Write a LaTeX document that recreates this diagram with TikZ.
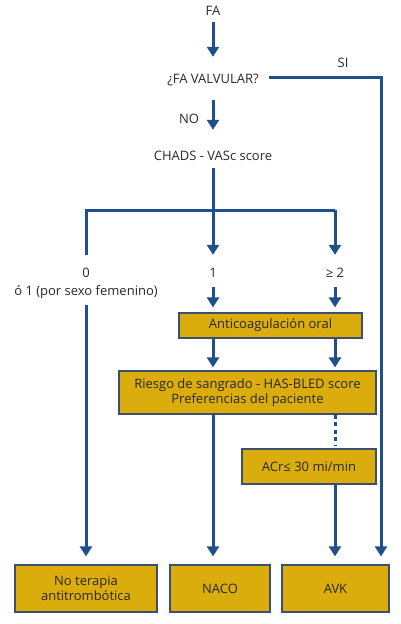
\documentclass[tikz,border=0pt]{standalone}
\usepackage{fontspec}
\setmainfont{Open Sans}
\usetikzlibrary{arrows.meta}
\definecolor{flowblue}{RGB}{31,80,140}
\definecolor{boxgold}{RGB}{219,173,12}
\definecolor{boxedge}{RGB}{60,80,110}
\definecolor{labeltext}{RGB}{40,40,40}

\begin{document}
\begin{tikzpicture}[x=1pt, y=-1pt]
            \tikzstyle{every node} = [font=\fontsize{13}{15}\selectfont, text=labeltext]
            \tikzstyle{label} = [inner sep=0pt, text height=10pt, text depth=0pt, align=center]
            \tikzstyle{result} = [draw=boxedge, line width=1.2pt, fill=boxgold, inner sep=0pt, align=center]
            \tikzstyle{link} = [draw=flowblue, line width=3pt]
            \tikzstyle{arrow} = [link, -{Triangle[width=12pt, length=10pt]}]
            \useasboundingbox (0,0) rectangle (400,624);

            % question and score
            \node[label] (fa) at (213,10) {FA};
            \node[label] (valvular) at (213,78) {¿FA VALVULAR?};
            \node[label] (si) at (343,62) {SI};
            \node[label] (no) at (189,118) {NO};
            \node[label] (chads) at (213,155) {CHADS - VASc score};

            % score values
            \node[label] (zero) at (86,272) {0};
            \node[label] (female) at (86,290) {ó 1 (por sexo femenino)};
            \node[label] (one) at (213,272) {1};
            \node[label] (two) at (335,272) {≥ 2};

            % boxes
            \node[result, minimum width=183pt, minimum height=25pt] (oral) at (270.5,325.5) {Anticoagulación oral};
            \node[result, minimum width=257pt, minimum height=43pt] (risk) at (247.5,392.5)
                {Riesgo de sangrado - HAS-BLED score\\Preferencias del paciente};
            \node[result, minimum width=134pt, minimum height=35pt] (acr) at (309,466.5) {ACr≤ 30 mi/min};
            \node[result, minimum width=142pt, minimum height=47pt] (noterapia) at (86,588.5)
                {No terapia\\antitrombótica};
            \node[result, minimum width=100pt, minimum height=47pt] (naco) at (220,588.5) {NACO};
            \node[result, minimum width=107pt, minimum height=47pt] (avk) at (335.5,588.5) {AVK};

            \coordinate (split) at (213,210);
            \coordinate (splitL) at (86,210);
            \coordinate (splitR) at (335,210);
            \coordinate (siturn) at (381,77);

            \draw[arrow, shorten <=7pt, shorten >=16pt] (fa.south) -- (valvular.north);
            \draw[arrow, shorten <=17pt, shorten >=20pt] (valvular.south) -- (chads.north);
            \draw[arrow, shorten <=10pt, shorten >=8pt] (valvular.east |- siturn) -- (siturn) -- (avk.north -| siturn);

            \draw[link, shorten <=8pt] (chads.south) -- (split);
            \draw[link, shorten >=12pt] (splitR) -- (splitL) -- (zero.north);
            \draw[arrow, shorten >=12pt] (split) -- (one.north);
            \draw[arrow, shorten >=12pt] (splitR) -- (two.north);

            \draw[arrow, shorten <=10pt, shorten >=5pt] (one.south) -- (oral.north -| one);
            \draw[arrow, shorten <=10pt, shorten >=5pt] (two.south) -- (oral.north -| two);
            \draw[arrow, shorten <=10pt, shorten >=8pt] (female.south) -- (noterapia.north);

            \draw[arrow, shorten >=3pt] (oral.south -| one) -- (risk.north -| one);
            \draw[arrow, shorten >=3pt] (oral.south -| two) -- (risk.north -| two);
            \draw[arrow, shorten >=8pt] (risk.south -| one) -- (naco.north -| one);
            \draw[link, dash pattern=on 4pt off 3.5pt, shorten >=2pt] (risk.south -| two) -- (acr.north -| two);
            \draw[arrow, shorten >=8pt] (acr.south -| two) -- (avk.north -| two);
\end{tikzpicture}
\end{document}
